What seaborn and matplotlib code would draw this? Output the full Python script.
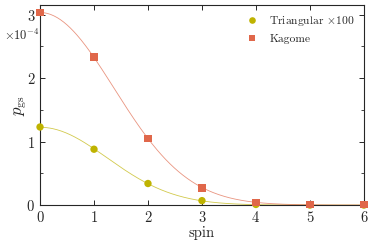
import numpy as np
import pandas as pd
import matplotlib
matplotlib.use('Agg')
import matplotlib.pyplot as plt
import seaborn as sns

# values (units of 1e-4)
spin = [0, 1, 2, 3, 4, 5, 6]
triangular = [1.23, 0.88, 0.34, 0.07, 0.01, 0.0, 0.0]
kagome = [3.03, 2.33, 1.05, 0.27, 0.04, 0.012, 0.005]

sns.set_style('ticks')
plt.rcParams['font.family'] = ['cmr10', 'DejaVu Serif']
plt.rcParams['mathtext.fontset'] = 'cm'
plt.rcParams['axes.formatter.use_mathtext'] = True
plt.rcParams['axes.unicode_minus'] = False

c_tri = '#bfb300'
c_kag = '#e0674a'

df = pd.DataFrame({'spin': spin * 2,
                   'p': triangular + kagome,
                   'lattice': ['Triangular $\\times 100$'] * len(spin) + ['Kagome'] * len(spin)})

fig = plt.figure(figsize=(3.74, 2.43), dpi=100)
ax = fig.add_axes([0.107, 0.156, 0.866, 0.823])

# gaussian fit curves through the points
xs = np.linspace(0, 6, 300)
for vals, col in [(triangular, c_tri), (kagome, c_kag)]:
    x = np.array(spin[:4], dtype=float)
    y = np.array(vals[:4])
    b, a = np.polyfit(x ** 2, np.log(y), 1, w=y)
    ax.plot(xs, np.exp(a + b * xs ** 2), color=col, lw=0.6, alpha=0.7, zorder=1)

sns.scatterplot(data=df, x='spin', y='p', hue='lattice', style='lattice',
                markers=['o', 's'], palette=[c_tri, c_kag], s=28, linewidth=0,
                ax=ax, zorder=3, clip_on=False)

ax.set_xlim(0, 6)
ax.set_ylim(0, 3.15)
ax.set_xticks(range(7))
ax.set_yticks([0, 1, 2, 3])
ax.set_yticks([0.5, 1.5, 2.5], minor=True)
ax.tick_params(direction='in', top=True, right=True, labelsize=10.5, length=3.5, width=0.7)
ax.tick_params(which='minor', direction='in', right=True, length=2, width=0.6)
for s in ax.spines.values():
    s.set_linewidth(0.8)
ax.set_xlabel('spin', fontsize=10.5, labelpad=1)
ax.set_ylabel('$p_{\\rm gs}$', fontsize=12)
ax.yaxis.set_label_coords(-0.035, 0.5)
fig.text(0.012, 0.835, '$\\times 10^{-4}$', fontsize=9)

leg = ax.legend(loc='upper right', frameon=False, fontsize=8.3, title=None,
                handletextpad=0.5, borderaxespad=0.4, markerscale=0.9)

fig.savefig('out.png', dpi=100)
